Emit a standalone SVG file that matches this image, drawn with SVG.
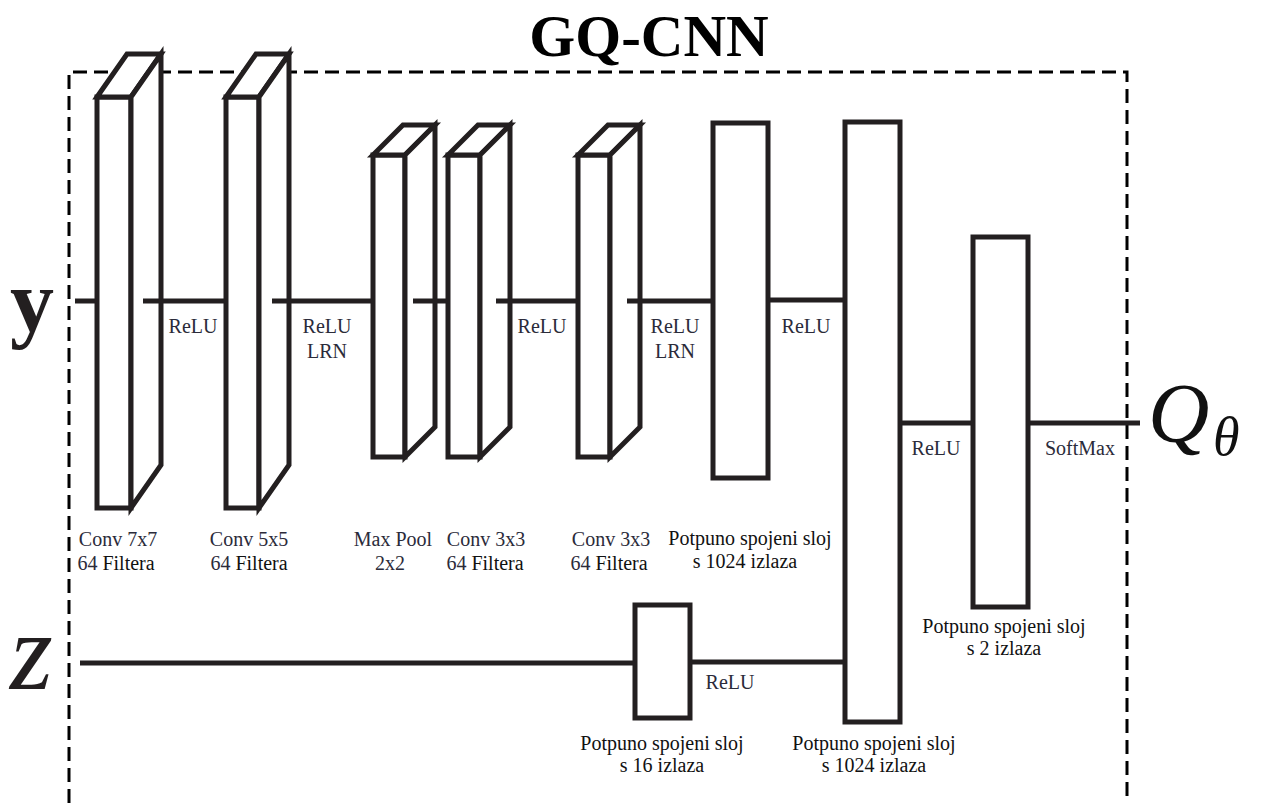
<svg xmlns="http://www.w3.org/2000/svg" width="1261" height="803" viewBox="0 0 1261 803">
<style>
.blk{fill:#fff;stroke:#231f20;stroke-width:5;stroke-linejoin:miter}
.con{stroke:#231f20;stroke-width:5;fill:none}
.lbl{font-family:"Liberation Serif",serif;font-size:20px;fill:#2b2b3a;text-anchor:middle}
.blk2{font-family:"Liberation Serif",serif;font-size:20px;fill:#111;text-anchor:middle}
.frame{fill:none;stroke:#000;stroke-width:3;stroke-dasharray:14 7}
</style>
<rect width="1261" height="803" fill="#fff"/>
<text x="649" y="56" font-family="Liberation Serif,serif" font-weight="bold" font-size="59" text-anchor="middle" fill="#000">GQ-CNN</text>
<path class="frame" d="M69,803 V72 H1127 V803"/>
<text x="10" y="331" font-family="Liberation Serif,serif" font-weight="bold" font-size="88" fill="#231f20">y</text>
<text x="10" y="689" font-family="Liberation Serif,serif" font-style="italic" font-size="110" fill="#231f20">z</text>
<text x="1148" y="442" font-family="Liberation Serif,serif" font-style="italic" font-size="85" fill="#111">Q</text>
<text x="1213" y="455" font-family="Liberation Serif,serif" font-style="italic" font-size="54" fill="#111">θ</text>

<g id="conv7">
<rect class="blk" x="97" y="97" width="34" height="411"/>
<polygon class="blk" points="97,97 127,54 161,54 131,97"/>
<polygon class="blk" points="131,97 161,54 161,465 131,508"/>
<text class="lbl" x="118" y="546">Conv 7x7</text>
<text class="lbl" x="116" y="570">64 <tspan fill="#111">Filtera</tspan></text>
</g>
<g id="conv5">
<rect class="blk" x="226" y="97" width="33" height="411"/>
<polygon class="blk" points="226,97 256,54 289,54 259,97"/>
<polygon class="blk" points="259,97 289,54 289,465 259,508"/>
<text class="lbl" x="249" y="546">Conv 5x5</text>
<text class="lbl" x="249" y="570">64 <tspan fill="#111">Filtera</tspan></text>
</g>
<g id="maxpool">
<rect class="blk" x="373" y="155" width="32" height="302"/>
<polygon class="blk" points="373,155 403,125 435,125 405,155"/>
<polygon class="blk" points="405,155 435,125 435,427 405,457"/>
<text class="lbl" x="393" y="546">Max Pool</text>
<text class="lbl" x="390" y="570">2x2</text>
</g>
<g id="conv3a">
<rect class="blk" x="448" y="155" width="32" height="302"/>
<polygon class="blk" points="448,155 478,125 510,125 480,155"/>
<polygon class="blk" points="480,155 510,125 510,427 480,457"/>
<text class="lbl" x="486" y="546">Conv 3x3</text>
<text class="lbl" x="485" y="570">64 <tspan fill="#111">Filtera</tspan></text>
</g>
<g id="conv3b">
<rect class="blk" x="578" y="155" width="32" height="302"/>
<polygon class="blk" points="578,155 608,125 640,125 610,155"/>
<polygon class="blk" points="610,155 640,125 640,427 610,457"/>
<text class="lbl" x="611" y="546">Conv 3x3</text>
<text class="lbl" x="609" y="570">64 <tspan fill="#111">Filtera</tspan></text>
</g>
<g id="fc1024a">
<rect class="blk" x="713" y="123" width="55" height="355"/>
<text class="blk2" x="750" y="545">Potpuno spojeni sloj</text>
<text class="blk2" x="745" y="568">s 1024 izlaza</text>
</g>
<g id="fc16">
<rect class="blk" x="635" y="605" width="55" height="113"/>
<text class="blk2" x="662" y="750">Potpuno spojeni sloj</text>
<text class="blk2" x="662" y="772">s 16 izlaza</text>
</g>
<g id="fc1024b">
<rect class="blk" x="845" y="122" width="55" height="600"/>
<text class="blk2" x="874" y="750">Potpuno spojeni sloj</text>
<text class="blk2" x="874" y="772">s 1024 izlaza</text>
</g>
<g id="fc2">
<rect class="blk" x="973" y="237" width="55" height="370"/>
<text class="blk2" x="1004" y="633">Potpuno spojeni sloj</text>
<text class="blk2" x="1004" y="655">s 2 izlaza</text>
</g>

<g id="connectors">
<line class="con" x1="75" y1="301" x2="97" y2="301"/>
<line class="con" x1="143" y1="301" x2="226" y2="301"/>
<line class="con" x1="272" y1="301" x2="373" y2="301"/>
<line class="con" x1="413" y1="301" x2="448" y2="301"/>
<line class="con" x1="496" y1="301" x2="578" y2="301"/>
<line class="con" x1="627" y1="301" x2="713" y2="301"/>
<line class="con" x1="768" y1="300" x2="845" y2="300"/>
<line class="con" x1="900" y1="423" x2="973" y2="423"/>
<line class="con" x1="1028" y1="423" x2="1140" y2="423"/>
<line class="con" x1="80" y1="663" x2="635" y2="663"/>
<line class="con" x1="690" y1="662" x2="845" y2="662"/>
<text class="lbl" x="193" y="333">ReLU</text>
<text class="lbl" x="327" y="333">ReLU</text>
<text class="lbl" x="327" y="358">LRN</text>
<text class="lbl" x="542" y="333">ReLU</text>
<text class="lbl" x="675" y="333">ReLU</text>
<text class="lbl" x="675" y="358">LRN</text>
<text class="lbl" x="806" y="333">ReLU</text>
<text class="lbl" x="936" y="455">ReLU</text>
<text class="lbl" x="1080" y="455">SoftMax</text>
<text class="lbl" x="730" y="689">ReLU</text>
</g>
</svg>
